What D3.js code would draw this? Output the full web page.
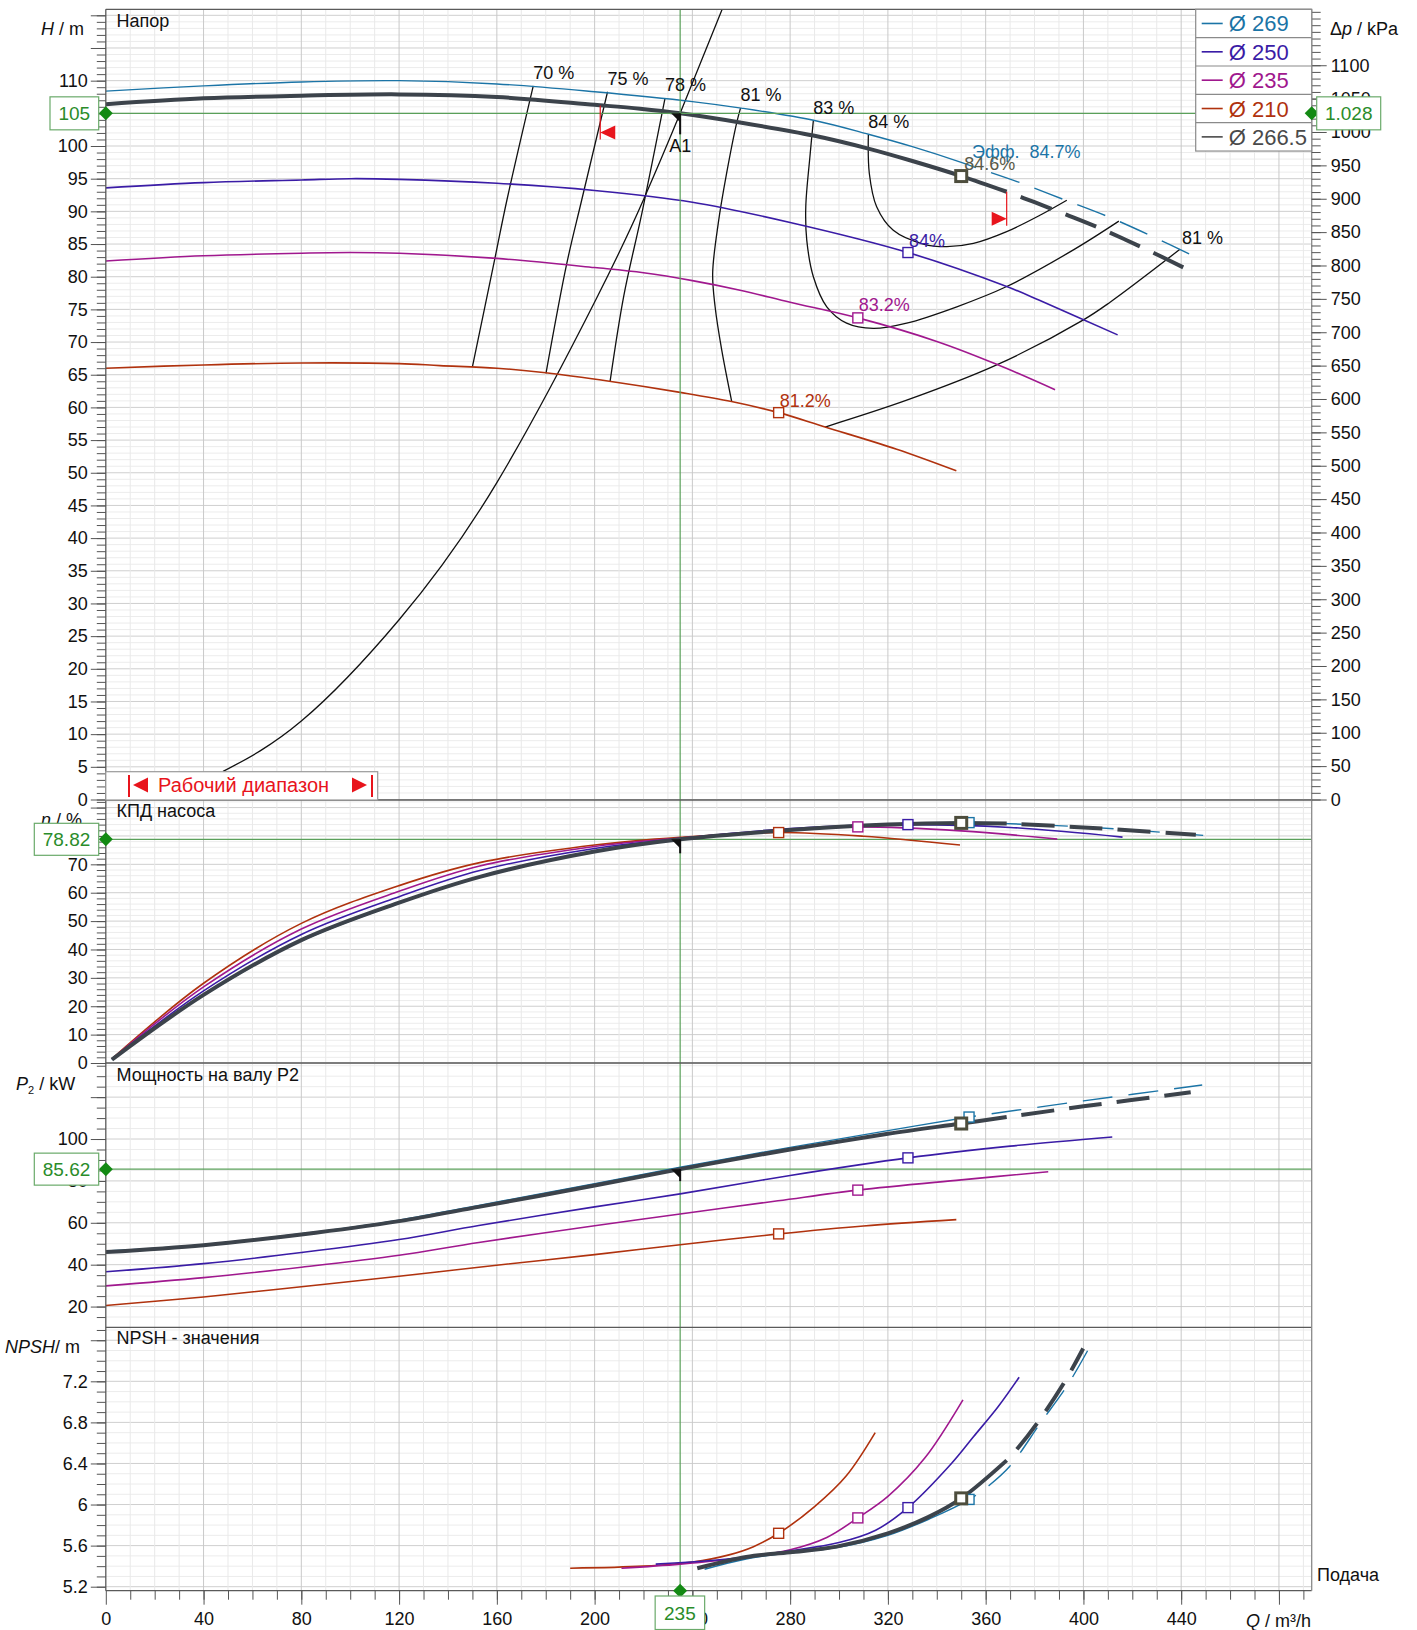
<!DOCTYPE html>
<html>
<head>
<meta charset="utf-8">
<script src="https://cdn.jsdelivr.net/npm/d3@7"></script>
<style>
  body { margin: 0; background: #fff; }
  svg { display: block; font-family: "Liberation Sans", Arial, sans-serif; }
</style>
</head>
<body>
<svg id="chart" width="1417" height="1630"></svg>
<script>
// ---------------- data ----------------
const impellers = ["Ø 269", "Ø 250", "Ø 235", "Ø 210", "Ø 266.5"];

// Head H(Q): Q in m³/h, H in m
const head269 = [[0,108.4],[40,109.2],[80,109.8],[120,110.0],[160,109.5],[200,108.3],[240,106.8],[260,105.8],[290,103.9],[312,101.8],[330,99.9],[350,97.5],[356,96.7],[374,94.4],[392,91.8],[410,89.2],[428,86.2],[446,83.0]];
const head250 = [[0,93.6],[40,94.4],[80,94.8],[100,95.0],[120,94.9],[160,94.3],[200,93.2],[240,91.4],[280,88.3],[328.2,83.7],[368.6,78.5],[382,76.4],[414,71.1]];
const head235 = [[0,82.4],[40,83.2],[80,83.6],[100,83.7],[120,83.6],[160,82.8],[200,81.4],[220,80.6],[240,79.4],[260,77.9],[280,76.1],[307.7,73.7],[340,70.1],[364.5,66.6],[388.4,62.7]];
const head210 = [[0,66.0],[40,66.5],[80,66.8],[120,66.7],[136.7,66.4],[160,66.0],[180,65.3],[206,64.0],[235,62.3],[256,60.9],[275.3,59.2],[294.3,57.0],[323.6,53.6],[348,50.3]];
const head266 = [[0,106.4],[40,107.3],[80,107.7],[120,107.9],[160,107.5],[200,106.3],[218.6,105.7],[235,105.0],[259.5,103.6],[289.5,101.6],[312,99.6],[330,97.7],[350,95.4],[368.6,93.0],[380,91.4],[393,89.5],[405,87.7],[417,85.7],[429,83.6],[441,81.4]];

// Pump efficiency η(Q) in %
const eff269 = [[2.5,1.2],[40,23.8],[80,43.0],[120,56.3],[153,65.5],[200,74.4],[235,78.8],[280,82.3],[320,84.2],[353.2,84.7],[356,84.7],[400,83.2],[449,80.2]];
const eff250 = [[2.5,1.3],[40,25.4],[80,45.3],[120,58.6],[153,67.8],[200,75.6],[235,79.1],[280,82.6],[328.2,84.0],[370,83.0],[416,79.6]];
const eff235 = [[2.5,1.4],[40,26.8],[80,47.2],[120,60.5],[153,69.4],[200,76.3],[235,79.3],[275,82.0],[307.7,83.2],[350,81.8],[389.3,78.9]];
const eff210 = [[2.5,1.5],[40,28.1],[80,49.2],[120,62.5],[153,70.6],[200,76.8],[235,79.5],[275.3,81.2],[310,79.9],[349.5,76.8]];
const eff266 = [[2.5,1.2],[40,24.0],[80,43.3],[120,56.5],[153,65.6],[200,74.5],[235,78.82],[280,82.1],[320,84.0],[350,84.6],[368.6,84.4],[400,83.0],[446,80.4]];

// Shaft power P2(Q) in kW
const pow269 = [[0,46.5],[40,49.6],[80,54.8],[120,61.3],[152.6,68.3],[200,78.7],[235,86.5],[280,96.0],[320,104.0],[353.2,110.5],[356,111.0],[400,118.2],[448.6,125.8]];
const pow250 = [[0,36.6],[40,40.5],[80,45.8],[120,52.0],[152.6,58.7],[200,67.6],[235,73.8],[280,82.6],[328.2,91.0],[370,96.6],[411.8,101.0]];
const pow235 = [[0,29.9],[40,33.8],[80,38.8],[120,44.5],[152.6,50.6],[200,58.6],[235,64.2],[275,70.5],[307.7,75.6],[350,80.5],[385.6,84.4]];
const pow210 = [[0,20.5],[40,24.6],[80,29.5],[120,34.5],[152.6,38.8],[200,44.8],[235,49.5],[275.3,54.7],[310,58.5],[348,61.5]];
const pow266 = [[0,46.0],[40,49.3],[80,54.4],[120,60.8],[152.6,67.6],[200,77.8],[235,85.62],[280,95.0],[320,102.5],[350,107.4],[368.6,110.5],[400,115.6],[443.9,122.3]];

// NPSH(Q) in m
const npsh269 = [[245,5.37],[262,5.47],[280,5.53],[299,5.58],[320,5.70],[337,5.86],[353.5,6.05],[356,6.09],[360.6,6.17],[369.8,6.37],[382.3,6.79],[393.7,7.17],[403.6,7.58]];
const npsh250 = [[225,5.42],[250,5.46],[280,5.55],[300,5.63],[315,5.75],[328.2,5.97],[346,6.40],[355,6.66],[365,6.95],[373.7,7.24]];
const npsh235 = [[211,5.38],[235,5.42],[260,5.48],[280,5.56],[295,5.68],[307.7,5.87],[320,6.08],[335,6.45],[350.7,7.02]];
const npsh210 = [[190,5.38],[220,5.40],[240,5.44],[255,5.51],[265,5.59],[275.3,5.72],[290,5.98],[303,6.28],[314.8,6.70]];
const npsh266 = [[242,5.38],[262,5.49],[280,5.535],[299,5.59],[320,5.72],[336.7,5.88],[350,6.06],[368.6,6.43],[373.2,6.55],[381.6,6.81],[392.2,7.19],[399.9,7.52]];

// Best efficiency points: Q, H, η, P2, NPSH
const bep269 = [353.2, 97.2, 84.7, 110.5, 6.05];
const bep250 = [328.2, 83.7, 84.0, 91.0, 5.97];
const bep235 = [307.7, 73.7, 83.2, 75.6, 5.87];
const bep210 = [275.3, 59.2, 81.2, 54.7, 5.72];
const bep266 = [350.0, 95.4, 84.6, 107.4, 6.06];

// Iso-efficiency lines in the head chart (Q, H)
const iso70 = [[174.9,109.2],[164.1,91.7],[159.2,82.8],[150.0,66.2]];
const iso75 = [[205.3,108.3],[194.7,91.7],[188.6,82.0],[180.1,65.2]];
const iso78 = [[228.8,107.3],[219.5,90.0],[211.9,77.0],[206.3,63.9]];
const iso81a = [[259.7,105.8],[258.1,103.5],[254.0,95.8],[250.6,88.2],[248.3,80.5],[249.3,75.4],[252.0,68.8],[256.1,60.9]];
const iso81b = [[294.3,57.0],[327.7,61.1],[364.5,66.5],[400.0,73.4],[410.9,76.1],[439.5,84.2]];
const iso83 = [[289.5,103.9],[288.1,98.4],[286.4,90.7],[286.8,85.6],[289.5,80.0],[295.0,75.4],[303.1,72.9],[314.0,72.1],[327.7,72.9],[348.2,75.4],[368.6,78.5],[395.9,84.1],[414.5,88.5]];
const iso84 = [[312.0,101.7],[312.4,95.8],[315.4,90.7],[322.2,87.1],[334.5,85.0],[344.1,84.6],[355.0,85.1],[368.6,86.9],[382.2,89.4],[393.2,91.7]];
const isoLabels = ["70 %", "75 %", "78 %", "81 %", "83 %", "84 %", "81 %"];

// System curve through the duty point (Q, H)
const systemCurve = [[48,4.3],[80,12.0],[120,27.5],[160,48.5],[200.8,76.7],[219.9,91.7],[235,105.0],[252.7,121.4]];

// Duty point A1 and operating range limits on the Ø 266.5 curve
const dutyPoint = { q: 235, h: 105, dp: "1.028", eta: 78.82, p2: 85.62 };
const rangeLimits = [[202.3, 106.2], [368.6, 93.0]];

// Axis tick labels
const qTicks = [0,40,80,120,160,200,240,280,320,360,400,440];
const hTicks = [0,5,10,15,20,25,30,35,40,45,50,55,60,65,70,75,80,85,90,95,100,110];
const dpTicks = [0,50,100,150,200,250,300,350,400,450,500,550,600,650,700,750,800,850,900,950,1000,1050,1100];
const etaTicks = [0,10,20,30,40,50,60,70];
const pTicks = [20,40,60,80,100];
const npshTicks = [5.2,5.6,6,6.4,6.8,7.2];

// ---------------- layout & scales ----------------
const svg = d3.select("#chart");
const X0 = 105.8, X1 = 1311.7;
const x   = d3.scaleLinear().domain([0, 493.4]).range([X0, X1]);
const yH  = d3.scaleLinear().domain([0, 120.92]).range([799.5, 9.3]);
const yDp = d3.scaleLinear().domain([0, 120.92 * 9.79]).range([799.5, 9.3]);
const yE  = d3.scaleLinear().domain([0, 92.67]).range([1063, 800]);
const yP  = d3.scaleLinear().domain([10.1, 136.3]).range([1327.3, 1063]);
const yN  = d3.scaleLinear().domain([5.161, 7.726]).range([1590.7, 1327.3]);

const COL = { c269: "#1b74a6", c250: "#3a1ca6", c235: "#a0188e", c210: "#b0320e", c266: "#3c434b" };
const GREEN = "#2a8c2a", RED = "#e8141c";
const SMOOTH = d3.curveCatmullRom.alpha(0.5);

svg.append("rect").attr("width", 1417).attr("height", 1630).attr("fill", "#fff");

// clip regions for each sub chart
const defs = svg.append("defs");
function clip(id, ys) {
  const r = ys.range();
  defs.append("clipPath").attr("id", id).append("rect")
    .attr("x", X0).attr("y", r[1]).attr("width", X1 - X0).attr("height", r[0] - r[1]);
  return "url(#" + id + ")";
}

// ---------------- grids ----------------
const grid = svg.append("g");
function hGrid(ys, minorStep, majorStep) {
  const [lo, hi] = ys.domain();
  const start = Math.ceil(lo / minorStep - 1e-6);
  for (let i = start; i * minorStep <= hi + 1e-9; i++) {
    const v = +(i * minorStep).toFixed(4);
    const major = Math.abs(v / majorStep - Math.round(v / majorStep)) < 1e-6;
    grid.append("line").attr("x1", X0).attr("x2", X1).attr("y1", ys(v)).attr("y2", ys(v))
      .attr("stroke", major ? "#cfcfcf" : "#ececec").attr("stroke-width", 1);
  }
}
hGrid(yH, 1, 5);
hGrid(yE, 2, 10);
hGrid(yP, 5, 20);
hGrid(yN, 0.1, 0.4);
for (let q = 10; q < 493; q += 10) {
  grid.append("line").attr("x1", x(q)).attr("x2", x(q)).attr("y1", 9.3).attr("y2", 1590.7)
    .attr("stroke", q % 40 === 0 ? "#c9c9c9" : "#e9e9e9").attr("stroke-width", 1);
}

// ---------------- curve helpers ----------------
function lineGen(ys, curve) {
  return d3.line().x(d => x(d[0])).y(d => ys(d[1])).curve(curve || SMOOTH);
}
function drawSeries(g, pts, ys, color, width, split, dash) {
  const gen = lineGen(ys);
  const solid = split ? pts.filter(d => d[0] <= split) : pts;
  g.append("path").attr("d", gen(solid)).attr("fill", "none")
    .attr("stroke", color).attr("stroke-width", width).attr("stroke-linejoin", "round");
  if (split) {
    const rest = pts.filter(d => d[0] >= split);
    g.append("path").attr("d", gen(rest)).attr("fill", "none")
      .attr("stroke", color).attr("stroke-width", width)
      .attr("stroke-dasharray", dash.join(",")).attr("stroke-dashoffset", dash[0]);
  }
}
function square(g, px, py, color, size, sw) {
  g.append("rect").attr("x", px - size / 2).attr("y", py - size / 2)
    .attr("width", size).attr("height", size)
    .attr("fill", "#fff").attr("stroke", color).attr("stroke-width", sw);
}
function dutyMark(g, px, py, tail) {
  g.append("path").attr("d", `M${px - 9},${py} L${px},${py} L${px},${py + 9} Z`).attr("fill", "#111");
  g.append("line").attr("x1", px).attr("x2", px).attr("y1", py).attr("y2", py + tail)
    .attr("stroke", "#111").attr("stroke-width", 2);
}

const DARK_DASH = [33, 15], TEAL_DASH = [30, 16];
const series = [
  { h: head210, e: eff210, p: pow210, n: npsh210, c: COL.c210, w: 1.6, bep: bep210 },
  { h: head235, e: eff235, p: pow235, n: npsh235, c: COL.c235, w: 1.6, bep: bep235 },
  { h: head250, e: eff250, p: pow250, n: npsh250, c: COL.c250, w: 1.6, bep: bep250 },
  { h: head269, e: eff269, p: pow269, n: npsh269, c: COL.c269, w: 1.4, bep: bep269, split: 356, dash: TEAL_DASH },
  { h: head266, e: eff266, p: pow266, n: npsh266, c: COL.c266, w: 4, bep: bep266, split: 368.6, dash: DARK_DASH }
];

// ---------------- head chart ----------------
const gH = svg.append("g").attr("clip-path", clip("cH", yH));

// iso-efficiency lines
const isoLines = [iso70, iso75, iso78, iso81a, iso83, iso84, iso81b];
const isoGen = lineGen(yH, SMOOTH);
isoLines.forEach(pts => {
  gH.append("path").attr("d", isoGen(pts)).attr("fill", "none").attr("stroke", "#111").attr("stroke-width", 1.3);
});
// system curve
gH.append("path").attr("d", lineGen(yH, d3.curveNatural)(systemCurve))
  .attr("fill", "none").attr("stroke", "#111").attr("stroke-width", 1.3);

series.forEach(s => drawSeries(gH, s.h, yH, s.c, s.w, s.split, s.dash));

// duty point lines (green)
const gl = svg.append("g").attr("stroke", "#5aa05a").attr("stroke-width", 1.2);
gl.append("line").attr("x1", X0).attr("x2", X1).attr("y1", yH(dutyPoint.h)).attr("y2", yH(dutyPoint.h));
gl.append("line").attr("x1", x(dutyPoint.q)).attr("x2", x(dutyPoint.q)).attr("y1", 9.3).attr("y2", 1590.7);
gl.append("line").attr("x1", X0).attr("x2", X1).attr("y1", yE(dutyPoint.eta)).attr("y2", yE(dutyPoint.eta));
gl.append("line").attr("x1", X0).attr("x2", X1).attr("y1", yP(dutyPoint.p2)).attr("y2", yP(dutyPoint.p2));

// BEP markers in the head chart
[bep250, bep235, bep210].forEach((b, i) => {
  const c = [COL.c250, COL.c235, COL.c210][i];
  square(gH, x(b[0]), yH(b[1]), c, 10, 1.4);
});
square(gH, x(bep266[0]), yH(bep266[1]), "#4d4d3c", 11, 3);

// operating range limits
rangeLimits.forEach((r, i) => {
  const px = x(r[0]), py = yH(r[1]);
  svg.append("line").attr("x1", px).attr("x2", px).attr("y1", py).attr("y2", py + 34)
    .attr("stroke", RED).attr("stroke-width", 1.2);
  const ty = py + 27;
  const d = i === 0
    ? `M${px},${ty} L${px + 15},${ty - 7} L${px + 15},${ty + 7} Z`
    : `M${px},${ty} L${px - 15},${ty - 7} L${px - 15},${ty + 7} Z`;
  svg.append("path").attr("d", d).attr("fill", RED);
});

dutyMark(svg, x(dutyPoint.q), yH(dutyPoint.h), 21);
svg.append("text").attr("x", x(dutyPoint.q) - 11).attr("y", yH(dutyPoint.h) + 39)
  .attr("font-size", 18).attr("fill", "#111").text("A1");

// iso-efficiency labels
const txt = (x0, y0, t, color, size, anchor) => svg.append("text").attr("x", x0).attr("y", y0)
  .attr("font-size", size || 18).attr("fill", color || "#111").attr("text-anchor", anchor || "start")
  .style("white-space", "pre").text(t);
[iso70, iso75, iso78, iso81a, iso83, iso84].forEach((pts, i) => {
  txt(x(pts[0][0]), yH(pts[0][1]) - 7, isoLabels[i]);
});
txt(x(iso81b[iso81b.length - 1][0]) + 2, yH(iso81b[iso81b.length - 1][1]) - 5, isoLabels[6]);

// BEP labels
txt(x(bep250[0]) + 1, yH(bep250[1]) - 6, bep250[2] + "%", COL.c250);
txt(x(bep235[0]) + 1, yH(bep235[1]) - 7, bep235[2] + "%", COL.c235);
txt(x(bep210[0]) + 1, yH(bep210[1]) - 6, bep210[2] + "%", COL.c210);
txt(x(bep269[0]) + 3, yH(bep269[1]) - 6, "Эфф.  " + bep269[2] + "%", COL.c269);
txt(x(bep266[0]) + 3, yH(bep266[1]) - 6, bep266[2] + "%", "#5a5a48");

// ---------------- efficiency chart ----------------
const gE = svg.append("g").attr("clip-path", clip("cE", yE));
series.forEach(s => drawSeries(gE, s.e, yE, s.c, s.w, s.split, s.dash));
series.forEach(s => {
  if (s.c === COL.c266) square(gE, x(s.bep[0]), yE(s.bep[2]), "#4d4d3c", 11, 3);
  else square(gE, x(s.bep[0]), yE(s.bep[2]), s.c, 10, 1.4);
});
dutyMark(svg, x(dutyPoint.q), yE(dutyPoint.eta), 14);

// ---------------- power chart ----------------
const gP = svg.append("g").attr("clip-path", clip("cP", yP));
series.forEach(s => drawSeries(gP, s.p, yP, s.c, s.w, s.split, s.dash));
series.forEach(s => {
  if (s.c === COL.c266) square(gP, x(s.bep[0]), yP(s.bep[3]), "#4d4d3c", 11, 3);
  else square(gP, x(s.bep[0]), yP(s.bep[3]), s.c, 10, 1.4);
});
dutyMark(svg, x(dutyPoint.q), yP(dutyPoint.p2), 12);

// ---------------- NPSH chart ----------------
const gN = svg.append("g").attr("clip-path", clip("cN", yN));
series.forEach(s => drawSeries(gN, s.n, yN, s.c, s.w, s.split, s.dash));
series.forEach(s => {
  if (s.c === COL.c266) square(gN, x(s.bep[0]), yN(s.bep[4]), "#4d4d3c", 11, 3);
  else square(gN, x(s.bep[0]), yN(s.bep[4]), s.c, 10, 1.4);
});

// ---------------- frame ----------------
const frame = svg.append("g").attr("stroke", "#5a5a5a").attr("stroke-width", 1.3);
frame.append("line").attr("x1", X0).attr("x2", X1).attr("y1", 9.3).attr("y2", 9.3);
[800, 1063, 1327.3, 1590.7].forEach(v =>
  frame.append("line").attr("x1", X0).attr("x2", X1).attr("y1", v).attr("y2", v));
frame.append("line").attr("x1", X0).attr("x2", X0).attr("y1", 9.3).attr("y2", 1590.7);
frame.append("line").attr("x1", X1).attr("x2", X1).attr("y1", 9.3).attr("y2", 1590.7).attr("stroke", "#8a8a8a");

// ---------------- axes ----------------
function styleAxis(g) {
  g.select(".domain").remove();
  g.selectAll("line").attr("stroke", "#555");
  g.selectAll("text").attr("font-size", 18).attr("fill", "#111")
    .attr("font-family", '"Liberation Sans", Arial, sans-serif');
}
function leftAxis(ys, minorVals, majorVals, labels) {
  svg.append("g").attr("transform", `translate(${X0},0)`)
    .call(d3.axisLeft(ys).tickValues(minorVals).tickSize(9).tickFormat("")).call(styleAxis);
  svg.append("g").attr("transform", `translate(${X0},0)`)
    .call(d3.axisLeft(ys).tickValues(majorVals).tickSize(15).tickPadding(3)
      .tickFormat(v => labels.includes(v) ? String(v) : "")).call(styleAxis);
}
const rng = (a, b, s) => d3.range(Math.round(a / s), Math.round(b / s) + 1).map(i => +(i * s).toFixed(3));
leftAxis(yH, rng(0, 120, 1), rng(0, 120, 5), hTicks);
leftAxis(yE, rng(0, 92, 2), rng(0, 90, 10), etaTicks);
leftAxis(yP, rng(15, 135, 5), rng(20, 120, 20), pTicks);
leftAxis(yN, rng(5.2, 7.7, 0.1), rng(5.2, 7.6, 0.4), npshTicks);

svg.append("g").attr("transform", `translate(${X1},0)`)
  .call(d3.axisRight(yDp).tickValues(rng(0, 1180, 10)).tickSize(9).tickFormat("")).call(styleAxis);
svg.append("g").attr("transform", `translate(${X1},0)`)
  .call(d3.axisRight(yDp).tickValues(dpTicks).tickSize(15).tickPadding(4).tickFormat(d3.format("d")))
  .call(styleAxis);

svg.append("g").attr("transform", `translate(0,1590.7)`)
  .call(d3.axisBottom(x).tickValues(rng(10, 490, 10)).tickSize(9).tickFormat("")).call(styleAxis);
svg.append("g").attr("transform", `translate(0,1590.7)`)
  .call(d3.axisBottom(x).tickValues(qTicks.concat([480])).tickSize(14).tickPadding(8)
    .tickFormat(v => qTicks.includes(v) ? String(v) : "")).call(styleAxis);

// axis titles
function title(x0, y0, parts, anchor) {
  const t = svg.append("text").attr("x", x0).attr("y", y0).attr("font-size", 18).attr("fill", "#111")
    .attr("text-anchor", anchor || "start").style("white-space", "pre");
  parts.forEach(p => {
    const s = t.append("tspan").text(p[0]);
    if (p[1] === "i") s.attr("font-style", "italic");
    if (p[1] === "sub") s.attr("font-size", 11).attr("dy", 4);
    if (p[2]) s.attr("dy", p[2]);
  });
}
title(41, 35, [["H", "i"], [" / m"]]);
title(1330, 35, [["Δ"], ["p", "i"], [" / kPa"]]);
title(41, 826, [["η", "i"], [" / %"]]);
title(16, 1090, [["P", "i"], ["2", "sub"], [" / kW", null, -4]]);
title(5, 1353, [["NPSH", "i"], ["/ m"]]);
title(1311, 1627, [["Q", "i"], [" / m³/h"]], "end");
txt(1317, 1581, "Подача");

// panel titles
txt(116.5, 27, "Напор");
txt(116.5, 817, "КПД насоса");
txt(116.5, 1081, "Мощность на валу P2");
txt(116.5, 1344, "NPSH - значения");

// ---------------- legend ----------------
const lg = svg.append("g");
const legendColors = [COL.c269, COL.c250, COL.c235, COL.c210, "#4a4a4a"];
const lx = 1195.7, ly = 9.3, lw = 116, rowH = 28.35;
lg.append("rect").attr("x", lx).attr("y", ly).attr("width", lw).attr("height", rowH * 5)
  .attr("fill", "#fff").attr("stroke", "#8a8a8a").attr("stroke-width", 1.2);
impellers.forEach((name, i) => {
  const cy = ly + rowH * i + rowH / 2;
  if (i > 0) lg.append("line").attr("x1", lx).attr("x2", lx + lw).attr("y1", ly + rowH * i).attr("y2", ly + rowH * i)
    .attr("stroke", "#8a8a8a").attr("stroke-width", 1.2);
  lg.append("line").attr("x1", lx + 6).attr("x2", lx + 27).attr("y1", cy).attr("y2", cy)
    .attr("stroke", legendColors[i]).attr("stroke-width", 1.6);
  lg.append("text").attr("x", lx + 33).attr("y", cy + 8).attr("font-size", 22)
    .attr("fill", legendColors[i]).text(name);
});

// ---------------- operating range box ----------------
const ob = svg.append("g");
ob.append("rect").attr("x", X0).attr("y", 771.7).attr("width", 271.9).attr("height", 28.3)
  .attr("fill", "#fff").attr("stroke", "#9a9a9a").attr("stroke-width", 1.2);
ob.append("line").attr("x1", 129).attr("x2", 129).attr("y1", 775).attr("y2", 797).attr("stroke", RED).attr("stroke-width", 2);
ob.append("path").attr("d", "M133,785 L148,777.5 L148,792.5 Z").attr("fill", RED);
ob.append("text").attr("x", 158).attr("y", 792).attr("font-size", 20).attr("fill", RED).text("Рабочий диапазон");
ob.append("path").attr("d", "M367,785 L352,777.5 L352,792.5 Z").attr("fill", RED);
ob.append("line").attr("x1", 372).attr("x2", 372).attr("y1", 775).attr("y2", 797).attr("stroke", RED).attr("stroke-width", 2);

// ---------------- duty point value boxes ----------------
function diamond(px, py) {
  svg.append("path").attr("d", `M${px - 7},${py} L${px},${py - 7} L${px + 7},${py} L${px},${py + 7} Z`).attr("fill", "#138a13");
}
function valueBox(x0, y0, w, h, t) {
  svg.append("rect").attr("x", x0).attr("y", y0).attr("width", w).attr("height", h)
    .attr("fill", "#fff").attr("stroke", "#6aaa6a").attr("stroke-width", 1.2);
  svg.append("text").attr("x", x0 + w / 2).attr("y", y0 + h / 2 + 7).attr("text-anchor", "middle")
    .attr("font-size", 19).attr("fill", GREEN).text(t);
}
diamond(X0, yH(dutyPoint.h));
diamond(X1, yH(dutyPoint.h));
diamond(X0, yE(dutyPoint.eta));
diamond(X0, yP(dutyPoint.p2));
diamond(x(dutyPoint.q), 1590.7);
valueBox(50, yH(dutyPoint.h) - 16.5, 48.7, 33, String(dutyPoint.h));
valueBox(1316.7, yH(dutyPoint.h) - 16.5, 64, 33, dutyPoint.dp);
valueBox(34.3, yE(dutyPoint.eta) - 16, 64.4, 32, String(dutyPoint.eta));
valueBox(34.3, yP(dutyPoint.p2) - 16, 64.4, 32, String(dutyPoint.p2));
valueBox(x(dutyPoint.q) - 25, 1596, 49.5, 33.5, String(dutyPoint.q));
</script>
</body>
</html>
